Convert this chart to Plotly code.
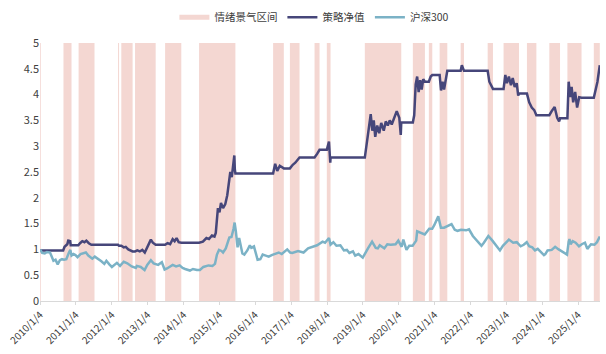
import plotly.graph_objects as go

# ---------------- data ----------------
band_start = ["2010-01-04", "2010-08-30", "2011-01-31", "2012-03-08", "2012-04-10", "2012-08-28",
              "2013-06-30", "2014-06-11", "2016-07-04", "2016-12-22", "2017-08-30", "2018-01-02",
              "2019-01-24", "2020-05-27", "2020-11-06", "2021-02-24", "2021-09-26", "2022-06-28",
              "2022-12-07", "2023-08-02", "2024-03-17", "2024-09-17", "2025-06-13"]
band_end = ["2010-01-12", "2010-11-20", "2011-07-12", "2012-03-18", "2012-08-03", "2013-03-26",
            "2013-12-12", "2015-06-16", "2016-10-21", "2017-03-30", "2017-10-20", "2018-02-09",
            "2020-01-30", "2020-09-27", "2020-12-11", "2021-05-13", "2021-10-30", "2022-08-21",
            "2023-05-13", "2023-11-06", "2024-07-04", "2025-02-08", "2025-08-13"]

nav_dates = ["2010-01-04", "2010-08-27", "2010-09-10", "2010-10-08", "2010-10-20", "2010-10-25",
             "2010-11-05", "2010-11-12", "2010-11-20", "2011-01-28", "2011-02-15", "2011-03-10",
             "2011-04-01", "2011-04-20", "2011-05-15", "2011-06-10", "2011-07-12", "2012-03-08",
             "2012-03-18", "2012-04-10", "2012-05-05", "2012-05-25", "2012-06-20", "2012-07-15",
             "2012-08-03", "2012-08-28", "2012-09-20", "2012-10-15", "2012-11-10", "2012-12-05",
             "2012-12-25", "2013-01-20", "2013-02-05", "2013-02-25", "2013-03-26", "2013-06-30",
             "2013-07-25", "2013-08-20", "2013-09-15", "2013-10-05", "2013-10-25", "2013-11-15",
             "2013-12-12", "2014-06-11", "2014-07-20", "2014-08-25", "2014-09-20", "2014-10-20",
             "2014-11-15", "2014-11-28", "2014-12-08", "2014-12-20", "2015-01-05", "2015-01-20",
             "2015-02-10", "2015-03-05", "2015-03-25", "2015-04-10", "2015-04-25", "2015-05-10",
             "2015-05-25", "2015-06-05", "2015-06-10", "2015-06-16", "2016-07-04", "2016-07-25",
             "2016-08-15", "2016-09-10", "2016-10-21", "2016-12-22", "2017-01-20", "2017-02-15",
             "2017-03-30", "2017-08-30", "2017-09-25", "2017-10-20", "2018-01-02", "2018-01-24",
             "2018-02-06", "2018-02-09", "2019-01-24", "2019-02-25", "2019-03-10", "2019-03-25",
             "2019-04-10", "2019-04-25", "2019-05-10", "2019-05-30", "2019-06-20", "2019-07-10",
             "2019-08-05", "2019-08-25", "2019-09-15", "2019-10-05", "2019-10-25", "2019-11-20",
             "2019-12-15", "2020-01-10", "2020-01-25", "2020-01-30", "2020-05-27", "2020-06-10",
             "2020-06-25", "2020-07-10", "2020-07-25", "2020-08-10", "2020-08-25", "2020-09-10",
             "2020-09-27", "2020-11-06", "2020-11-25", "2020-12-11", "2021-02-24", "2021-03-10",
             "2021-03-25", "2021-04-10", "2021-04-25", "2021-05-13", "2021-09-26", "2021-10-08",
             "2021-10-30", "2022-06-28", "2022-07-15", "2022-08-05", "2022-08-21", "2022-12-07",
             "2022-12-25", "2023-01-10", "2023-01-30", "2023-02-20", "2023-03-10", "2023-03-30",
             "2023-04-20", "2023-05-05", "2023-05-13", "2023-08-02", "2023-08-25", "2023-09-20",
             "2023-10-15", "2023-11-06", "2024-03-17", "2024-04-10", "2024-05-10", "2024-06-05",
             "2024-06-25", "2024-07-04", "2024-09-17", "2024-09-30", "2024-10-15", "2024-10-30",
             "2024-11-15", "2024-12-05", "2024-12-25", "2025-01-15", "2025-02-08", "2025-06-13",
             "2025-07-01", "2025-07-20", "2025-08-13"]
nav_values = [0.98, 0.98, 1.05, 1.10, 1.19, 1.12,
              1.18, 1.08, 1.08, 1.08, 1.12, 1.16,
              1.14, 1.17, 1.12, 1.09, 1.09, 1.09,
              1.07, 1.07, 1.04, 1.05, 1.00, 0.97,
              0.96, 0.96, 0.98, 0.96, 0.99, 0.94,
              1.02, 1.12, 1.19, 1.13, 1.09, 1.09,
              1.12, 1.10, 1.20, 1.16, 1.22, 1.14,
              1.13, 1.13, 1.15, 1.22, 1.20, 1.27,
              1.25, 1.32, 1.55, 1.80, 1.72, 1.90,
              1.80, 1.88, 2.05, 2.35, 2.50, 2.40,
              2.60, 2.82, 2.55, 2.47, 2.47, 2.66,
              2.52, 2.62, 2.57, 2.57, 2.64, 2.68,
              2.78, 2.78, 2.85, 2.93, 2.93, 3.09,
              2.68, 2.78, 2.78, 3.20, 3.45, 3.62,
              3.30, 3.50, 3.18, 3.40, 3.25, 3.45,
              3.30, 3.48, 3.40, 3.50, 3.42, 3.55,
              3.68, 3.55, 3.22, 3.46, 3.46, 3.60,
              4.20, 4.35, 4.05, 4.28, 4.10, 4.30,
              4.25, 4.25, 4.35, 4.38, 4.38, 4.08,
              4.25, 4.10, 4.30, 4.46, 4.46, 4.57,
              4.46, 4.46, 4.25, 4.15, 4.11, 4.11,
              4.38, 4.22, 4.35, 4.18, 4.32, 4.15,
              4.22, 3.98, 4.02, 4.02, 3.85, 3.75,
              3.70, 3.60, 3.60, 3.68, 3.76, 3.55,
              3.48, 3.54, 3.54, 4.25, 3.95, 4.15,
              3.85, 4.05, 3.75, 3.95, 3.94, 3.94,
              4.10, 4.25, 4.57]

hs_dates = ["2010-01-04", "2010-01-25", "2010-02-20", "2010-03-15", "2010-04-15", "2010-05-05",
            "2010-05-20", "2010-06-10", "2010-07-02", "2010-07-25", "2010-08-15", "2010-09-05",
            "2010-09-28", "2010-10-25", "2010-11-08", "2010-11-20", "2010-12-10", "2010-12-30",
            "2011-01-20", "2011-02-20", "2011-04-15", "2011-05-10", "2011-06-20", "2011-07-15",
            "2011-08-10", "2011-09-20", "2011-10-20", "2011-11-10", "2011-12-10", "2012-01-05",
            "2012-02-25", "2012-03-28", "2012-05-05", "2012-06-10", "2012-07-25", "2012-09-05",
            "2012-09-15", "2012-10-25", "2012-12-03", "2012-12-30", "2013-02-05", "2013-03-05",
            "2013-04-20", "2013-05-28", "2013-06-25", "2013-07-20", "2013-09-15", "2013-10-20",
            "2013-11-25", "2013-12-25", "2014-01-20", "2014-03-10", "2014-04-10", "2014-05-20",
            "2014-06-20", "2014-07-25", "2014-09-15", "2014-10-25", "2014-11-20", "2014-12-10",
            "2014-12-31", "2015-01-25", "2015-02-10", "2015-03-10", "2015-04-15", "2015-05-07",
            "2015-05-28", "2015-06-08", "2015-06-20", "2015-07-08", "2015-07-24", "2015-08-05",
            "2015-08-26", "2015-09-15", "2015-10-15", "2015-11-10", "2015-11-25", "2015-12-22",
            "2016-01-15", "2016-01-28", "2016-02-25", "2016-03-20", "2016-04-20", "2016-05-20",
            "2016-06-20", "2016-07-20", "2016-08-30", "2016-09-30", "2016-11-25", "2016-12-25",
            "2017-01-15", "2017-03-15", "2017-05-10", "2017-06-25", "2017-08-10", "2017-09-25",
            "2017-11-20", "2017-12-15", "2018-01-24", "2018-02-09", "2018-03-10", "2018-04-10",
            "2018-05-20", "2018-06-25", "2018-07-25", "2018-08-20", "2018-09-25", "2018-10-18",
            "2018-11-20", "2018-12-25", "2019-01-03", "2019-02-25", "2019-04-08", "2019-05-15",
            "2019-06-05", "2019-06-25", "2019-08-10", "2019-09-10", "2019-10-15", "2019-12-03",
            "2019-12-31", "2020-02-03", "2020-02-20", "2020-03-23", "2020-04-20", "2020-05-25",
            "2020-06-30", "2020-07-10", "2020-08-10", "2020-09-25", "2020-11-10", "2020-12-10",
            "2020-12-31", "2021-02-10", "2021-03-09", "2021-04-10", "2021-06-25", "2021-07-28",
            "2021-08-25", "2021-09-30", "2021-11-20", "2021-12-20", "2022-01-28", "2022-03-15",
            "2022-04-26", "2022-05-20", "2022-07-05", "2022-08-15", "2022-09-25", "2022-10-31",
            "2022-11-30", "2023-01-30", "2023-03-15", "2023-04-20", "2023-05-30", "2023-06-30",
            "2023-07-31", "2023-08-25", "2023-09-25", "2023-10-23", "2023-11-20", "2023-12-25",
            "2024-01-22", "2024-02-05", "2024-02-28", "2024-04-10", "2024-05-15", "2024-06-20",
            "2024-07-25", "2024-09-13", "2024-09-30", "2024-10-08", "2024-10-20", "2024-11-10",
            "2024-12-10", "2025-01-13", "2025-02-10", "2025-03-15", "2025-04-08", "2025-05-15",
            "2025-06-20", "2025-07-15", "2025-08-13"]
hs_values = [1.00, 0.93, 0.92, 0.95, 0.94, 0.84,
             0.78, 0.80, 0.71, 0.79, 0.81, 0.80,
             0.81, 0.94, 0.99, 0.88, 0.91, 0.89,
             0.85, 0.91, 0.94, 0.88, 0.82, 0.86,
             0.83, 0.77, 0.72, 0.78, 0.71, 0.66,
             0.74, 0.68, 0.76, 0.73, 0.67, 0.64,
             0.68, 0.66, 0.60, 0.70, 0.79, 0.73,
             0.70, 0.75, 0.61, 0.63, 0.70, 0.67,
             0.69, 0.64, 0.62, 0.59, 0.62, 0.60,
             0.60, 0.66, 0.69, 0.68, 0.72, 0.90,
             0.99, 0.97, 0.94, 1.02, 1.23, 1.24,
             1.40, 1.52, 1.36, 1.04, 1.22, 1.08,
             0.92, 0.90, 0.98, 1.08, 1.03, 1.06,
             0.87, 0.80, 0.81, 0.90, 0.88, 0.86,
             0.89, 0.91, 0.94, 0.91, 1.00, 0.94,
             0.93, 0.97, 0.94, 1.02, 1.05, 1.08,
             1.15, 1.13, 1.22, 1.09, 1.14, 1.07,
             1.08, 0.98, 0.99, 0.93, 0.96, 0.88,
             0.91, 0.84, 0.84, 1.02, 1.15, 1.03,
             1.02, 1.08, 1.02, 1.10, 1.09, 1.10,
             1.17, 1.05, 1.19, 0.99, 1.07, 1.07,
             1.17, 1.35, 1.32, 1.29, 1.40, 1.40,
             1.47, 1.64, 1.42, 1.42, 1.49, 1.38,
             1.36, 1.38, 1.37, 1.39, 1.26, 1.17,
             1.07, 1.13, 1.26, 1.17, 1.08, 0.98,
             1.07, 1.19, 1.13, 1.14, 1.06, 1.09,
             1.14, 1.06, 1.04, 0.98, 1.01, 0.94,
             0.89, 0.91, 0.98, 0.99, 1.05, 1.00,
             0.96, 0.90, 1.15, 1.20, 1.10, 1.16,
             1.13, 1.06, 1.10, 1.13, 1.01, 1.10,
             1.09, 1.14, 1.25]

tick_dates = ["%d-01-04" % y for y in range(2010, 2026)]
tick_labels = ["%d/1/4" % y for y in range(2010, 2026)]
y_ticks = [0, 0.5, 1, 1.5, 2, 2.5, 3, 3.5, 4, 4.5, 5]
y_labels = ["0", "0.5", "1", "1.5", "2", "2.5", "3", "3.5", "4", "4.5", "5"]

names = ["情绪景气区间", "策略净值", "沪深300"]
BAND = "#F4D7D2"
NAV = "#46467A"
HS = "#7BB2C6"
FONT = "Noto Sans CJK SC"

fig = go.Figure()

# legend entry for bands
fig.add_trace(go.Scatter(x=[None], y=[None], mode="lines", name=names[0],
                         line=dict(color=BAND, width=5)))
fig.add_trace(go.Scatter(x=nav_dates, y=nav_values, mode="lines", name=names[1],
                         line=dict(color=NAV, width=2.5)))
fig.add_trace(go.Scatter(x=hs_dates, y=hs_values, mode="lines", name=names[2],
                         line=dict(color=HS, width=2.5)))

for s, e in zip(band_start, band_end):
    fig.add_shape(type="rect", xref="x", yref="y", x0=s, x1=e, y0=0, y1=5,
                  fillcolor=BAND, line=dict(width=0), layer="below")

fig.update_layout(
    width=606, height=354,
    margin=dict(l=40, r=6, t=43, b=53, autoexpand=False),
    paper_bgcolor="white", plot_bgcolor="white",
    font=dict(family=FONT, size=11, color="#404040"),
    showlegend=True,
    legend=dict(orientation="h", x=0.24, xanchor="left", y=1.10, yanchor="middle",
                font=dict(size=10.5, color="#404040"), itemwidth=30,
                bgcolor="rgba(0,0,0,0)", tracegroupgap=0),
    xaxis=dict(type="date", range=["2010-01-03", "2025-08-15"],
               tickmode="array", tickvals=tick_dates, ticktext=tick_labels,
               tickangle=-45, tickfont=dict(size=10, color="#404040"),
               showgrid=False, zeroline=False,
               showline=True, linecolor="#D9D9D9", linewidth=1,
               ticks="outside", ticklen=3, tickcolor="#D9D9D9"),
    yaxis=dict(range=[0, 5], tickmode="array", tickvals=y_ticks, ticktext=y_labels,
               tickfont=dict(size=11, color="#404040"),
               showgrid=False, zeroline=False, showline=False, ticks=""),
)

fig.write_html("out.html")
